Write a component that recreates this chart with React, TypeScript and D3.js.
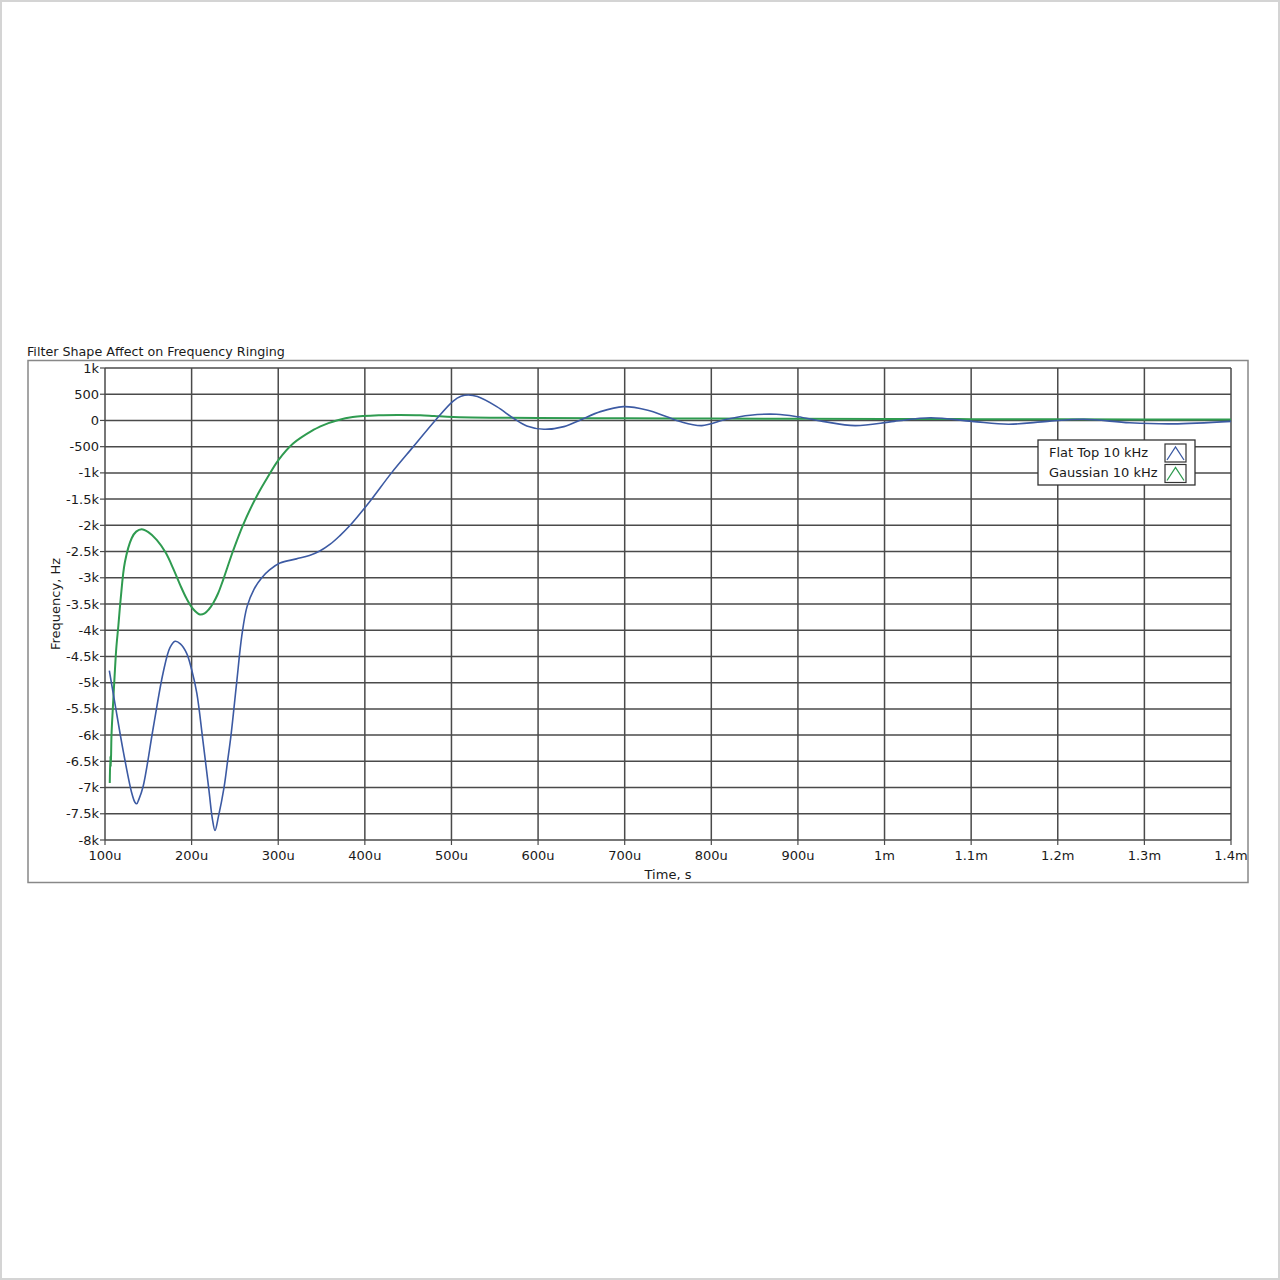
import React from "react";
import * as d3 from "d3";

const TITLE = "Filter Shape Affect on Frequency Ringing";
const X_LABEL = "Time, s";
const Y_LABEL = "Frequency, Hz";

// time in microseconds
const xTicks = [100, 200, 300, 400, 500, 600, 700, 800, 900, 1000, 1100, 1200, 1300, 1400];
const xTickLabels = ["100u", "200u", "300u", "400u", "500u", "600u", "700u", "800u", "900u", "1m", "1.1m", "1.2m", "1.3m", "1.4m"];
const yTicks = [1000, 500, 0, -500, -1000, -1500, -2000, -2500, -3000, -3500, -4000, -4500, -5000, -5500, -6000, -6500, -7000, -7500, -8000];
const yTickLabels = ["1k", "500", "0", "-500", "-1k", "-1.5k", "-2k", "-2.5k", "-3k", "-3.5k", "-4k", "-4.5k", "-5k", "-5.5k", "-6k", "-6.5k", "-7k", "-7.5k", "-8k"];

const seriesNames = ["Flat Top 10 kHz", "Gaussian 10 kHz"];

const flatTopT = [105, 111.5, 121, 130.8, 134.5, 136.6, 139, 144, 155.8, 167, 175, 181, 187, 194.3, 200, 206, 213, 220, 224, 227, 231, 237.4, 241.5, 245.5, 252, 258, 264, 272, 281, 290, 302, 321, 336, 348, 360, 371, 383, 406, 431, 456, 481, 502, 511, 519.6, 530, 552.3, 571.5, 587, 606.7, 629.8, 649, 672, 698.5, 725.5, 748.6, 764, 789, 817.5, 845, 875, 900, 928.7, 966, 1011, 1053, 1101, 1143, 1188, 1230, 1283, 1333, 1400];
const flatTopV = [-4770, -5400, -6300, -7100, -7280, -7310, -7230, -6980, -5850, -4820, -4330, -4210, -4260, -4440, -4750, -5200, -6100, -7050, -7600, -7820, -7550, -7000, -6500, -6000, -5000, -4100, -3550, -3220, -3000, -2850, -2720, -2640, -2575, -2490, -2360, -2200, -2000, -1540, -995, -499, -4, 370, 460, 486, 455, 263, 42, -105, -168, -118, 10, 168, 263, 200, 72, -22, -99, 23, 100, 118, 70, -17, -99, -17, 50, -17, -72, -17, 23, -45, -65, -17];

const gaussT = [105.5, 106.2, 106.7, 107.5, 109, 111, 113, 115.5, 118, 123, 130.8, 136, 142.3, 150, 159.7, 170, 178.9, 186.6, 194.3, 202, 209.6, 215, 220, 225, 230.5, 236.6, 248, 259.7, 275, 288.6, 300, 317.5, 340.5, 348, 358, 367.5, 386, 417, 440, 464, 480, 502, 550, 600, 700, 800, 900, 1000, 1100, 1200, 1300, 1400];
const gaussV = [-6915, -6400, -6600, -6000, -5500, -4900, -4350, -3900, -3420, -2700, -2246, -2120, -2075, -2130, -2278, -2520, -2830, -3130, -3400, -3600, -3700, -3680, -3600, -3480, -3300, -3030, -2480, -1980, -1450, -1060, -760, -435, -181, -118, -50, 0, 65, 100, 105, 100, 85, 65, 52, 48, 40, 35, 30, 28, 25, 22, 20, 20];

const BLUE = "#3c5aa3";
const GREEN = "#2f9b50";
const GRID = "#4a4a4a";
const TEXT = "#1a1a1a";
const FONT = "'DejaVu Sans', Verdana, sans-serif";

export default function App() {
  const W = 1280, H = 1280;
  const left = 105, right = 1231, top = 368, bottom = 840;
  const x = d3.scaleLinear().domain([100, 1400]).range([left, right]);
  const y = d3.scaleLinear().domain([-8000, 1000]).range([bottom, top]);

  const line = d3.line<[number, number]>()
    .x(d => x(d[0]))
    .y(d => y(d[1]))
    .curve(d3.curveCatmullRom.alpha(0.5));

  const flatPts: [number, number][] = flatTopT.map((t, i) => [t, flatTopV[i]]);
  const gaussPts: [number, number][] = gaussT.map((t, i) => [t, gaussV[i]]);

  const legendX = 1038, legendY = 440;
  const colors = [BLUE, GREEN];

  return (
    <svg width={W} height={H} style={{ position: "absolute", left: 0, top: 0, background: "#fff" }}>
      <rect x={1} y={1} width={W - 2} height={H - 2} fill="#fff" stroke="#d4d4d4" strokeWidth={2} />
      <rect x={28} y={360.5} width={1220} height={522} fill="#fff" stroke="#888" strokeWidth={1.5} />
      <text x={27} y={356} fontFamily={FONT} fontSize={12.7} fill={TEXT}>{TITLE}</text>

      {yTicks.map(v => (
        <line key={"h" + v} x1={left} x2={right} y1={y(v)} y2={y(v)} stroke={GRID} strokeWidth={1.5} />
      ))}
      {xTicks.map(t => (
        <line key={"v" + t} x1={x(t)} x2={x(t)} y1={top} y2={bottom} stroke={GRID} strokeWidth={1.5} />
      ))}
      {/* axis ticks */}
      {yTicks.map(v => (
        <line key={"yt" + v} x1={left - 5} x2={left} y1={y(v)} y2={y(v)} stroke={GRID} strokeWidth={1.2} />
      ))}
      {xTicks.map(t => (
        <line key={"xt" + t} x1={x(t)} x2={x(t)} y1={bottom} y2={bottom + 5} stroke={GRID} strokeWidth={1.2} />
      ))}
      {yTicks.map((v, i) => (
        <text key={"yl" + v} x={left - 6} y={y(v)} dy="0.35em" textAnchor="end" fontFamily={FONT} fontSize={13} fill={TEXT}>{yTickLabels[i]}</text>
      ))}
      {xTicks.map((t, i) => (
        <text key={"xl" + t} x={x(t)} y={860} textAnchor="middle" fontFamily={FONT} fontSize={13} fill={TEXT}>{xTickLabels[i]}</text>
      ))}
      <text x={(left + right) / 2} y={879} textAnchor="middle" fontFamily={FONT} fontSize={13} fill={TEXT}>{X_LABEL}</text>
      <text transform={`translate(60,${(top + bottom) / 2}) rotate(-90)`} textAnchor="middle" fontFamily={FONT} fontSize={13} fill={TEXT}>{Y_LABEL}</text>

      <path d={line(gaussPts) || ""} fill="none" stroke={GREEN} strokeWidth={2} />
      <path d={line(flatPts) || ""} fill="none" stroke={BLUE} strokeWidth={1.6} />

      {/* legend */}
      <rect x={legendX} y={legendY} width={157} height={45} fill="#fff" stroke="#333" strokeWidth={1.3} />
      {seriesNames.map((name, i) => {
        const ry = legendY + 4 + i * 20.5;
        return (
          <g key={name}>
            <text x={legendX + 11} y={ry + 12} dy="0.05em" fontFamily={FONT} fontSize={13} fill={TEXT}>{name}</text>
            <rect x={1165} y={ry} width={21} height={18} fill="#fff" stroke="#333" strokeWidth={1.2} />
            <polyline points={`1167,${ry + 16} 1175.5,${ry + 3} 1184,${ry + 16}`} fill="none" stroke={colors[i]} strokeWidth={1.3} />
          </g>
        );
      })}
    </svg>
  );
}
